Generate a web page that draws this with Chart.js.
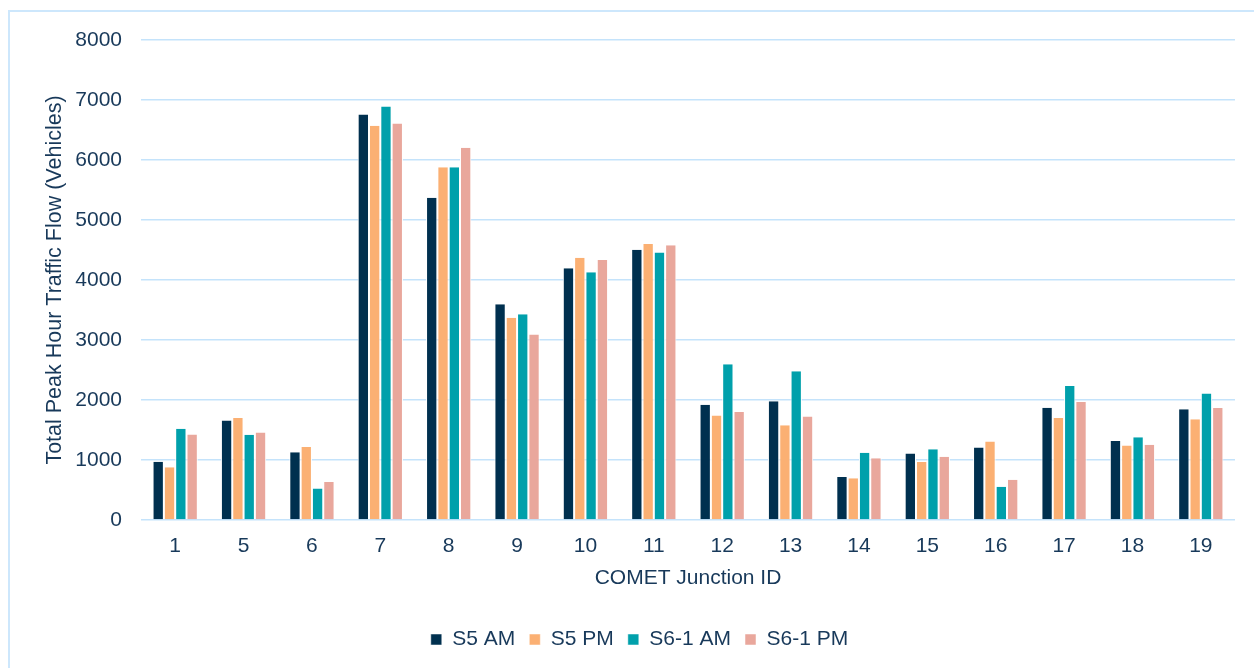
<!DOCTYPE html>
<html>
<head>
<meta charset="utf-8">
<script src="https://cdn.jsdelivr.net/npm/chart.js@4/dist/chart.umd.min.js"></script>
<style>
  html, body { margin: 0; padding: 0; background: #ffffff; overflow: hidden; }
  #wrap { position: relative; width: 1254px; height: 668px; }
  #frame {
    position: absolute; left: 8px; top: 10px; width: 3000px; height: 3000px;
    border-left: 2px solid #cde7fc; border-top: 2px solid #cde7fc;
    box-sizing: border-box;
  }
  canvas { position: absolute; left: 0; top: 0; }
</style>
</head>
<body>
<div id="wrap">
  <div id="frame"></div>
  <canvas id="chart" width="1254" height="668"></canvas>
</div>
<script>
// Junction IDs along the x axis
const junctions = ['1', '5', '6', '7', '8', '9', '10', '11', '12', '13', '14', '15', '16', '17', '18', '19'];

// Total peak hour traffic flow (vehicles) per scenario
const s5Am   = [970, 1660, 1130, 6760, 5370, 3595, 4195, 4505, 1920, 1980, 715, 1110, 1210, 1870, 1315, 1845];
const s5Pm   = [880, 1700, 1215, 6570, 5880, 3370, 4370, 4600, 1740, 1580, 695, 965, 1310, 1700, 1240, 1680];
const s61Am  = [1520, 1420, 525, 6890, 5880, 3430, 4130, 4460, 2595, 2480, 1120, 1180, 555, 2235, 1380, 2110];
const s61Pm  = [1425, 1460, 635, 6610, 6205, 3090, 4335, 4580, 1800, 1725, 1030, 1055, 670, 1965, 1255, 1865];

const seriesNames = ['S5 AM', 'S5 PM', 'S6-1 AM', 'S6-1 PM'];
const seriesColors = ['#00304f', '#fbb073', '#00a0ab', '#e9a79c'];

const textColor = '#18395a';
const fontFamily = '"Liberation Sans", Arial, sans-serif';
const gridColor = '#c4e3fb';

const values = [s5Am, s5Pm, s61Am, s61Pm];

// Nudge the legend row so it sits centred under the whole frame
const legendShift = {
  id: 'legendShift',
  afterLayout(chart) {
    const lg = chart.legend;
    if (lg) { lg.left += 7; lg.right += 7; }
  }
};

new Chart(document.getElementById('chart'), {
  type: 'bar',
  data: {
    labels: junctions,
    datasets: values.map((v, i) => ({
      label: seriesNames[i],
      data: v,
      backgroundColor: seriesColors[i],
      borderColor: '#ffffff',
      borderWidth: { left: 1, right: 1, top: 0, bottom: 0 },
      categoryPercentage: 0.662,
      barPercentage: 1.0
    }))
  },
  plugins: [legendShift],
  options: {
    responsive: false,
    animation: false,
    devicePixelRatio: 1,
    layout: { padding: { left: 30, right: 19, top: 40, bottom: 8 } },
    plugins: {
      tooltip: { enabled: false },
      legend: {
        position: 'bottom',
        labels: {
          color: textColor,
          font: { family: fontFamily, size: 21 },
          boxWidth: 11,
          boxHeight: 11,
          padding: 14
        }
      }
    },
    scales: {
      x: {
        grid: { display: false, drawTicks: false },
        border: { display: false },
        ticks: {
          color: textColor,
          font: { family: fontFamily, size: 21 },
          padding: 14,
          maxRotation: 0
        },
        title: {
          display: true,
          text: 'COMET Junction ID',
          color: textColor,
          font: { family: fontFamily, size: 21 },
          padding: { top: 0, bottom: 24 }
        },
        afterFit: (scale) => { scale.height = 95; }
      },
      y: {
        min: 0,
        max: 8000,
        ticks: {
          stepSize: 1000,
          color: textColor,
          font: { family: fontFamily, size: 21 },
          padding: 19,
          callback: (v) => String(v)
        },
        grid: { color: gridColor, lineWidth: 1.6, drawTicks: false },
        border: { display: false },
        title: {
          display: true,
          text: 'Total Peak Hour Traffic Flow (Vehicles)',
          color: textColor,
          font: { family: fontFamily, size: 21.5 },
          padding: { top: 12, bottom: 0 }
        },
        afterFit: (scale) => { scale.width = 111; }
      }
    }
  }
});
</script>
</body>
</html>
